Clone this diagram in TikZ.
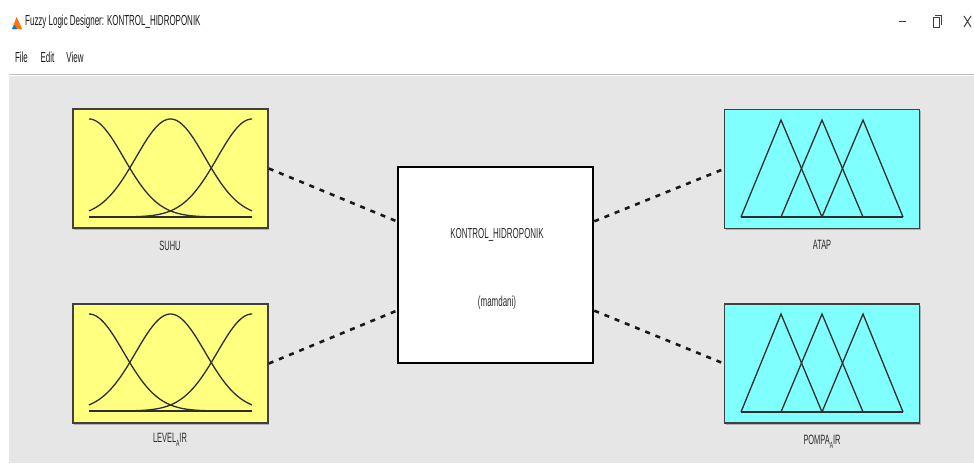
\documentclass[tikz,border=0pt]{standalone}
\usepackage{fontspec}
\newfontfamily\uifont[FakeStretch=0.55]{Liberation Sans}
\usetikzlibrary{calc,shadows}
\definecolor{panel}{HTML}{E6E6E6}
\definecolor{mfyellow}{HTML}{FFFF80}
\definecolor{mfcyan}{HTML}{80FFFF}
\definecolor{txt}{HTML}{2A2A2A}
\definecolor{mfline}{HTML}{2E2E2E}
\begin{document}
\begin{tikzpicture}[x=1pt,y=-1pt,
  varbox/.style={draw=black!75, line width=1.5pt, minimum width=195pt, minimum height=119pt, inner sep=0pt,
    drop shadow={shadow xshift=1pt, shadow yshift=-1.5pt, fill=black!45, opacity=0.6}},
  inbox/.style={varbox, fill=mfyellow},
  outbox/.style={varbox, fill=mfcyan},
  ctrlbox/.style={draw=black, line width=2.6pt, fill=white, minimum width=195pt, minimum height=196pt, inner sep=0pt},
  lbl/.style={font=\uifont\fontsize{13.5}{15}\selectfont, text=txt, inner sep=0pt},
  ctrltxt/.style={font=\uifont\fontsize{14.5}{16}\selectfont, text=txt, inner sep=0pt},
  menutxt/.style={font=\uifont\fontsize{14.5}{16}\selectfont, text=black!90, inner sep=0pt},
  link/.style={line width=2.6pt, dash pattern=on 5pt off 6pt, draw=black!90},
  mf/.style={draw=mfline, line width=1.3pt},
  mfbase/.style={draw=mfline, line width=2pt}
]
\useasboundingbox (0,0) rectangle (974,463);
\fill[white] (0,0) rectangle (974,463);
\fill[panel] (9,76) rectangle (974,463);
\draw[black!25, line width=1.2pt] (9,74.5) -- (974,74.5);

% window title bar
\fill[orange!90!red] (12,29) -- (16.5,17) -- (19,22) -- (22,29) -- cycle;
\fill[blue!55!cyan] (12,29) -- (14.5,25) -- (17,29) -- cycle;
\node[menutxt, anchor=west] (title) at (25,22) {Fuzzy Logic Designer: KONTROL\_HIDROPONIK};
\draw[black!75, line width=1.2pt] (899,21.5) -- (906,21.5);
\draw[black!75, line width=1pt] (933,17) rectangle (939,27);
\draw[black!75, line width=0.8pt] (935,15) -- (941,15) -- (941,25);
\draw[black!75, line width=1pt] (964,16) -- (971,27) (971,16) -- (964,27);

% menu
\node[menutxt] (mfile) at (21.5,57) {File};
\node[menutxt] (medit) at (47.5,57) {Edit};
\node[menutxt] (mview) at (75,57) {View};

% boxes
\node[inbox] (suhu) at (170.5,168.5) {};
\node[inbox] (level) at (170.5,363.5) {};
\node[outbox] (atap) at (822,169) {};
\node[outbox] (pompa) at (822,363.5) {};
\node[ctrlbox] (ctrl) at (495.5,265) {};

% labels
\node[lbl] (lsuhu) at (170,246) {SUHU};
\node[lbl] (llevel) at (170,440) {LEVEL\raisebox{-0.5ex}{\fontsize{9}{10}\selectfont A}IR};
\node[lbl] (latap) at (822,245) {ATAP};
\node[lbl] (lpompa) at (822,442) {POMPA\raisebox{-0.5ex}{\fontsize{9}{10}\selectfont A}IR};
\node[ctrltxt] (cname) at (497,235) {KONTROL\_HIDROPONIK};
\node[ctrltxt] (ctype) at (497,303) {(mamdani)};

% gaussian membership functions
\foreach \yb/\h in {217/98, 411/97} {
  \foreach \c in {89,170.5,252} {
    \draw[mf] plot[domain=89:252, samples=70, smooth] (\x, {\yb-\h*exp(-0.5*((\x-\c)/34.6)^2)});
  }
  \draw[mfbase] (89,\yb) -- (252,\yb);
}

% triangular membership functions
\foreach \yb/\yt in {217/120, 412/314} {
  \draw[mf, line join=miter] (741,\yb) -- (781,\yt) -- (822,\yb);
  \draw[mf, line join=miter] (781,\yb) -- (822,\yt) -- (863,\yb);
  \draw[mf, line join=miter] (822,\yb) -- (863,\yt) -- (903,\yb);
  \draw[mfbase] (741,\yb) -- (903,\yb);
}

% connectors
\draw[link] (suhu.east) -- ($(ctrl.north west)!0.28!(ctrl.south west)$);
\draw[link] (level.east) -- ($(ctrl.north west)!0.73!(ctrl.south west)$);
\draw[link] ($(ctrl.north east)!0.28!(ctrl.south east)$) -- (atap.west);
\draw[link] ($(ctrl.north east)!0.73!(ctrl.south east)$) -- (pompa.west);
\end{tikzpicture}
\end{document}
